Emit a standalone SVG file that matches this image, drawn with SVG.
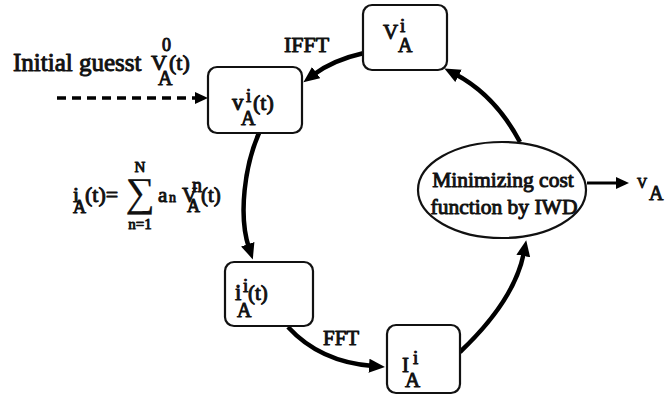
<svg xmlns="http://www.w3.org/2000/svg" width="671" height="399" viewBox="0 0 671 399" font-family="Liberation Serif">
<defs>
<marker id="ah" markerUnits="userSpaceOnUse" markerWidth="18" markerHeight="16" refX="4" refY="7" orient="auto" viewBox="0 0 18 16">
<path d="M0,0 L16,7 L0,14 z" fill="#000"/>
</marker>
<marker id="ahs" markerUnits="userSpaceOnUse" markerWidth="14" markerHeight="14" refX="3" refY="6" orient="auto" viewBox="0 0 14 14">
<path d="M0,0 L13,6 L0,12 z" fill="#000"/>
</marker>
</defs>
<style>
text{fill:#111;stroke:#111;stroke-width:0.95;stroke-linejoin:round}
.box{fill:#fff;stroke:#111;stroke-width:2.2}
.conn{fill:none;stroke:#000;stroke-width:4.5;marker-end:url(#ah)}
.m{text-anchor:middle}
.thin{stroke-width:0.2}
</style>
<rect width="671" height="399" fill="#fff"/>
<g id="connectors">
<path class="conn" d="M364,53 Q333,60 313,75"/>
<path class="conn" d="M259,133 C245,165 238,215 249,248"/>
<path class="conn" d="M288,327 Q320,362 373,366"/>
<path class="conn" d="M460,352 Q515,300 524,252"/>
<path class="conn" d="M520,142 Q495,95 455,74"/>
<path d="M57,98 L198,98" fill="none" stroke="#000" stroke-width="3.5" stroke-dasharray="9,6" marker-end="url(#ahs)"/>
<path d="M587,183 L619,183" fill="none" stroke="#000" stroke-width="3" marker-end="url(#ahs)"/>
</g>
<g id="initial-guess" font-family="Liberation Serif">
<text x="13" y="71" font-size="25">Initial guesst</text>
<text x="151" y="70" font-size="22">V</text>
<text x="162" y="51" font-size="18">0</text>
<text x="158" y="85" font-size="20">A</text>
<text x="169" y="70" font-size="22">(t)</text>
</g>
<g id="label-ifft" font-family="Liberation Serif"><text x="284" y="52" font-size="22">IFFT</text></g>
<g id="label-fft" font-family="Liberation Serif"><text x="323" y="345" font-size="21">FFT</text></g>
<g id="formula" font-family="Liberation Serif">
<text x="73" y="202" font-size="22">i</text>
<text x="73" y="213" font-size="18">A</text>
<text x="85" y="202" font-size="22">(t)=</text>
<text x="140" y="206" font-size="41" class="m thin">∑</text>
<text x="140" y="172" font-size="15" class="m">N</text>
<text x="140" y="229" font-size="15" class="m">n=1</text>
<text x="158" y="202" font-size="21">a</text>
<text x="169" y="202" font-size="14">n</text>
<text x="182" y="202" font-size="21">V</text>
<text x="192" y="192" font-size="20">n</text>
<text x="187" y="212" font-size="18">A</text>
<text x="201" y="202" font-size="21">(t)</text>
</g>
<g id="node-v-time" font-family="Liberation Serif">
<rect class="box" x="208" y="67" width="94" height="66" rx="9"/>
<text x="232" y="110" font-size="23">v</text>
<text x="246" y="102" font-size="19">i</text>
<text x="241" y="125" font-size="20">A</text>
<text x="253" y="110" font-size="22">(t)</text>
</g>
<g id="node-V-freq" font-family="Liberation Serif">
<rect class="box" x="363" y="5" width="84" height="65" rx="9"/>
<text x="383" y="39" font-size="21">V</text>
<text x="400" y="32" font-size="19">i</text>
<text x="398" y="52" font-size="20">A</text>
</g>
<g id="node-i-time" font-family="Liberation Serif">
<rect class="box" x="225" y="262" width="88" height="64" rx="9"/>
<text x="235" y="300" font-size="23">i</text>
<text x="243" y="292" font-size="19">i</text>
<text x="237" y="317" font-size="20">A</text>
<text x="248" y="300" font-size="21">(t)</text>
</g>
<g id="node-I-freq" font-family="Liberation Serif">
<rect class="box" x="387" y="325" width="73" height="68" rx="9"/>
<text x="402" y="372" font-size="21">I</text>
<text x="413" y="364" font-size="19">i</text>
<text x="405" y="387" font-size="21">A</text>
</g>
<g id="node-iwd" font-family="Liberation Serif">
<ellipse cx="502" cy="190" rx="84" ry="48" fill="#fff" stroke="#111" stroke-width="2.2"/>
<text x="503" y="187" font-size="21.5" class="m">Minimizing cost</text>
<text x="504" y="214" font-size="21.5" class="m">function by IWD</text>
</g>
<g id="output" font-family="Liberation Serif">
<text x="637" y="188" font-size="14">V</text>
<text x="649" y="200" font-size="20">A</text>
</g>
</svg>
